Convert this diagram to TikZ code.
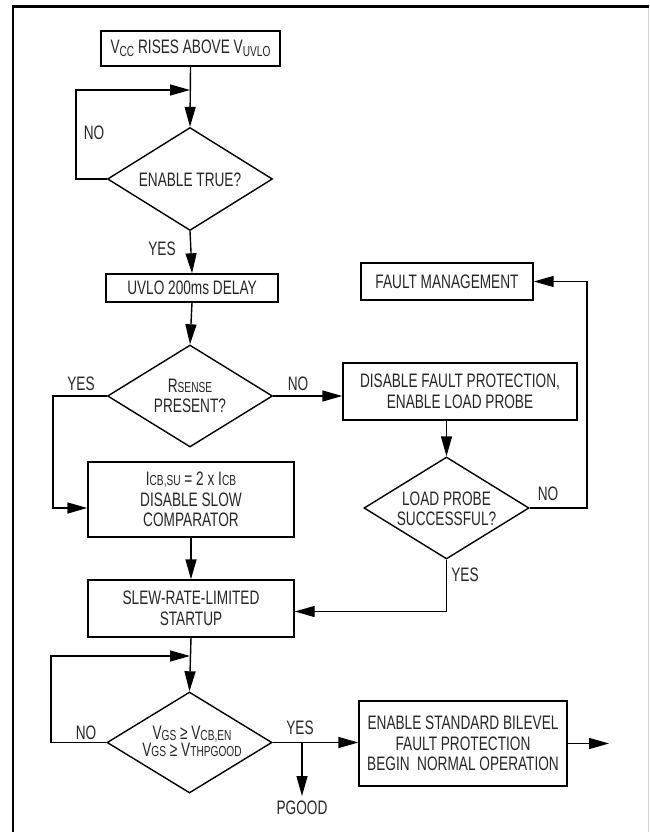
\documentclass[tikz,border=0pt]{standalone}
\usepackage{fontspec}
\setmainfont{Liberation Sans}[FakeStretch=0.70]
\usetikzlibrary{arrows.meta,shapes.geometric,calc}
\newcommand{\lowsub}[1]{\raisebox{-2.5pt}{\fontsize{14.5}{14.5}\selectfont #1}}
\newcommand{\smcap}[1]{{\fontsize{14.5}{14.5}\selectfont #1}}
\tikzset{
  every node/.style={font=\fontsize{19.5}{20.5}\selectfont, text=black!85},
  boxnode/.style={draw, line width=1.4pt, rectangle, inner sep=0pt, align=center},
  dia/.style={draw, line width=1.4pt, diamond, inner sep=0pt},
  lbl/.style={inner sep=0pt, align=center},
  arr/.style={line width=1.4pt, -{Triangle[length=20pt,width=11pt]}},
}
\begin{document}
\begin{tikzpicture}[x=1pt,y=-1pt]
\useasboundingbox (0,0) rectangle (649,832);
% frame
\draw[line width=2.5pt] (13,832) -- (13,6.5) -- (649,6.5);
\draw[line width=1pt, black!18] (648,7.7) -- (648,832);

% nodes
\node[boxnode, minimum width=179pt, minimum height=35pt] (b1) at (190.5,48.5) {V\lowsub{CC} RISES ABOVE V\lowsub{UVLO}};
\node[dia, minimum width=165pt, minimum height=103pt] (d1) at (190,179) {};
\node[lbl] (t1) at (190,180) {ENABLE TRUE?};
\node[boxnode, minimum width=172pt, minimum height=28pt] (b2) at (192,288) {UVLO 200ms DELAY};
\node[dia, minimum width=165pt, minimum height=102pt] (d2) at (190,396) {};
\node[lbl] (t2) at (190,396) {R\smcap{SENSE}\\PRESENT?};
\node[boxnode, minimum width=206pt, minimum height=75pt] (b3) at (191,499.5) {I\smcap{CB,SU} = 2 x I\smcap{CB}\\DISABLE SLOW\\COMPARATOR};
\node[boxnode, minimum width=172pt, minimum height=37pt] (fm) at (447,281.5) {FAULT MANAGEMENT};
\node[boxnode, minimum width=234pt, minimum height=57pt] (b4) at (460,391.5) {DISABLE FAULT PROTECTION,\\ENABLE LOAD PROBE};
\node[dia, minimum width=165pt, minimum height=102pt] (d3) at (446.5,508) {};
\node[lbl] (t3) at (446.5,509) {LOAD PROBE\\SUCCESSFUL?};
\node[boxnode, minimum width=206pt, minimum height=57pt] (b5) at (191,608.5) {SLEW-RATE-LIMITED\\STARTUP};
\node[dia, minimum width=165pt, minimum height=101pt] (d4) at (189.5,742.5) {};
\node[lbl] (t4) at (192,741.5) {V\raisebox{-1.5pt}{\fontsize{14.5}{14.5}\selectfont GS} ≥ V\raisebox{-1.5pt}{\fontsize{14.5}{14.5}\selectfont CB,EN}\\[-3pt]V\smcap{GS} ≥ V\smcap{THPGOOD}};
\node[boxnode, minimum width=208pt, minimum height=85pt] (b6) at (463,743.5) {ENABLE STANDARD BILEVEL\\FAULT PROTECTION\\BEGIN\ \ NORMAL OPERATION};

% labels
\node[lbl] (l1) at (94,133) {NO};
\node[lbl] (l2) at (162,249) {YES};
\node[lbl] (l3) at (81,384) {YES};
\node[lbl] (l4) at (298,384) {NO};
\node[lbl] (l5) at (548,494) {NO};
\node[lbl] (l6) at (465,575) {YES};
\node[lbl] (l7) at (86,733) {NO};
\node[lbl] (l8) at (300,728) {YES};
\node[lbl] (pg) at (302,808) {PGOOD};

% coordinates
\coordinate (j1) at (190,90);
\coordinate (j2) at (190,656);
\coordinate (br) at (302,742.5);
\coordinate (pgt) at (302,796);
\coordinate (outend) at (609,743.5);

% connectors
\draw[arr] (b1.south) -- (d1.north);
\draw[arr] (d1.west) -- (76,179) |- (j1);
\draw[arr] (d1.south) -- (b2.north);
\draw[arr] (b2.south) -- (d2.north);
\draw[arr] (d2.west) -- (53,396) |- ([yshift=-8.5pt]b3.west);
\draw[arr] (d2.east) -- (d2.east -| b4.west);
\draw[arr] (d3.north |- b4.south) -- (d3.north);
\draw[arr] (d3.east) -- (587,508) |- (fm.east);
\draw[arr] (d3.south) |- ([yshift=-3pt]b5.east);
\draw[arr] (b3.south) -- (b5.north);
\draw[arr] (b5.south) -- (d4.north);
\draw[arr] (d4.west) -- (51,742.5) |- (j2);
\draw[arr] (d4.east) -- (d4.east -| b6.west);
\draw[arr] (br) -- (pgt);
\draw[arr] (b6.east) -- (outend);
\end{tikzpicture}
\end{document}
